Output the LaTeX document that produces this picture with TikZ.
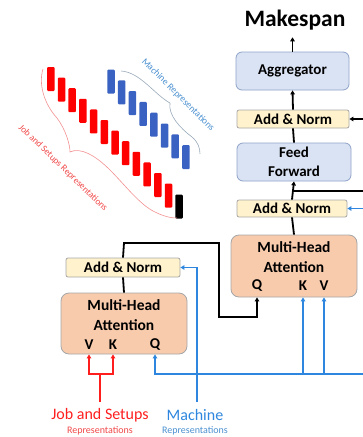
\documentclass[tikz,border=0pt]{standalone}
\usepackage{fontspec}
\setmainfont{Carlito}
\usetikzlibrary{arrows.meta}
\definecolor{bluebox}{HTML}{DAE3F3}
\definecolor{blueboxb}{HTML}{8FA3C8}
\definecolor{yel}{HTML}{FFF2CC}
\definecolor{peach}{HTML}{F8CBAD}
\definecolor{grayb}{HTML}{A6A6A6}
\definecolor{mblue}{HTML}{2E86DE}
\definecolor{jred}{HTML}{FF1E1E}
\definecolor{tokblue}{HTML}{3A62C2}
\definecolor{lblred}{HTML}{F04848}
\definecolor{lblblue}{HTML}{4A90D0}
\definecolor{bracered}{HTML}{F29090}
\definecolor{braceblue}{HTML}{98A8B8}
\begin{document}
\begin{tikzpicture}[x=1pt,y=-1pt,
 box/.style={draw=blueboxb,fill=bluebox,rounded corners=6pt,line width=0.8pt,font=\bfseries\fontsize{15}{19}\selectfont,align=center,inner sep=0pt},
 addnorm/.style={draw=grayb,fill=yel,rounded corners=2pt,line width=0.8pt,font=\bfseries\fontsize{15}{18}\selectfont,inner sep=0pt},
 mha/.style={draw=grayb,fill=peach,rounded corners=8pt,line width=0.8pt,inner sep=0pt},
 ttl/.style={font=\bfseries\fontsize{15.5}{20}\selectfont,align=center,inner sep=0pt},
 qkv/.style={font=\bfseries\fontsize{15}{18}\selectfont,inner sep=0pt},
 arr/.style={-{Triangle[width=4.5pt,length=4pt]}},
 blk/.style={draw=black,line width=1.8pt},
 bl/.style={draw=mblue,line width=1.6pt},
 rd/.style={draw=jred,line width=2.2pt},
 redtok/.style={fill=red,rounded corners=1pt,minimum width=7.5pt,minimum height=24pt,inner sep=0pt},
 bluetok/.style={fill=tokblue,rounded corners=1pt,minimum width=7.5pt,minimum height=24pt,inner sep=0pt},
 blacktok/.style={fill=black,rounded corners=1pt,minimum width=7.5pt,minimum height=24pt,inner sep=0pt}
]
\useasboundingbox (0,0) rectangle (363,437);

% tokens
\foreach \i in {0,...,11}{\node[redtok] (rt\i) at ({50.8+10.7*\i},{79+10.6*\i}) {};}
\node[blacktok] (bt) at (179,206.5) {};
\foreach \i in {0,...,7}{\node[bluetok] (bu\i) at ({111+10.7*\i},{81.5+10.8*\i}) {};}

% braces
\draw[bracered,line width=0.6pt] (43,69) .. controls (38,85) and (45,105) .. (57,118)
  .. controls (66,130) and (70,145) .. (70,152)
  .. controls (80,147) and (95,155) .. (110,170)
  .. controls (125,185) and (140,205) .. (155,212)
  .. controls (165,217) and (172,218) .. (177,218);
\draw[braceblue,line width=0.6pt] (121,71) .. controls (140,72) and (155,95) .. (170,103)
  .. controls (168,115) and (180,128) .. (192,137)
  .. controls (198,142) and (200,148) .. (200,154);
\node[text=lblred,font=\fontsize{9.3}{10}\selectfont,rotate=-44,inner sep=0pt] (jsr) at (63,168) {Job and Setups Representations};
\node[text=lblblue,font=\fontsize{9.5}{10}\selectfont,rotate=-45,inner sep=0pt] (mr) at (178,95) {Machine Representations};

% right stack
\node[font=\bfseries\fontsize{23.5}{25}\selectfont,inner sep=0pt] (mk) at (295,20) {Makespan};
\node[box,minimum width=113pt,minimum height=38pt] (agg) at (292.5,71) {Aggregator};
\node[addnorm,minimum width=112pt,minimum height=18pt] (an1) at (293,119) {Add \& Norm};
\node[box,minimum width=114pt,minimum height=38pt] (ff) at (294,162) {Feed\\Forward};
\node[addnorm,minimum width=110pt,minimum height=17pt] (an2) at (292,208.5) {Add \& Norm};
\node[mha,minimum width=126pt,minimum height=62pt] (mhaR) at (294,266) {};
\node[ttl] (mhaRt) at (294,257) {Multi-Head\\Attention};
\node[qkv] (qR) at (257,286) {Q};
\node[qkv] (kR) at (303,286) {K};
\node[qkv] (vR) at (324,286) {V};

% left block
\node[addnorm,minimum width=114pt,minimum height=19pt] (an3) at (123,267.5) {Add \& Norm};
\node[mha,minimum width=126pt,minimum height=61pt] (mhaL) at (124,323.5) {};
\node[ttl] (mhaLt) at (124,315) {Multi-Head\\Attention};
\node[qkv] (vL) at (89,345) {V};
\node[qkv] (kL) at (113,345) {K};
\node[qkv] (qL) at (155,345) {Q};

% input labels
\node[text=jred,font=\fontsize{16}{18}\selectfont,inner sep=0pt] (job) at (100,415) {Job and Setups};
\node[text=lblred,font=\fontsize{10}{11}\selectfont,inner sep=0pt] (jobs) at (100,431) {Representations};
\node[text=mblue,font=\fontsize{16}{18}\selectfont,inner sep=0pt] (mach) at (195,415) {Machine};
\node[text=lblblue,font=\fontsize{10}{11}\selectfont,inner sep=0pt] (machs) at (195,431) {Representations};

% coordinates
\coordinate (inA) at (363,119);
\coordinate (brF) at (293,191);
\coordinate (outF) at (363,191);
\coordinate (inB) at (363,208.5);
\coordinate (busE) at (363,374);
\coordinate (turn) at (124,243);
\coordinate (jog) at (219,317);
\coordinate (jobtop) at (100,402);
\coordinate (jsplit) at (100,374);
\coordinate (machtop) at (197,402);

% black connectors
\draw[blk,arr,shorten >=7pt] (agg.north) -- (mk.south -| agg.north);
\draw[blk,arr] (an1.north) -- (agg.south);
\draw[blk] (ff.north) -- (an1.south);
\draw[blk,arr] (an2.north) -- (ff.south);
\draw[blk] (mhaR.north) -- (an2.south);
\draw[blk] (brF) -- (outF);
\draw[blk,arr] (inA) -- (an1.east);
\draw[blk] (mhaL.north) -- (an3.south);
\draw[blk,arr] (an3.north) -- (turn) -| (jog) -| (qR |- mhaR.south);

% blue connectors
\draw[bl,arr] (inB) -- (an2.east);
\draw[bl,arr] (busE) -| (qL |- mhaL.south);
\draw[bl,arr] (kR |- busE) -- (kR |- mhaR.south);
\draw[bl,arr] (vR |- busE) -- (vR |- mhaR.south);
\draw[bl,arr] (machtop) |- (an3.east);

% red connectors
\draw[rd] (jobtop) -- (jsplit);
\draw[rd,arr] (jsplit) -| (vL |- mhaL.south);
\draw[rd,arr] (jsplit) -| (kL |- mhaL.south);
\end{tikzpicture}
\end{document}
